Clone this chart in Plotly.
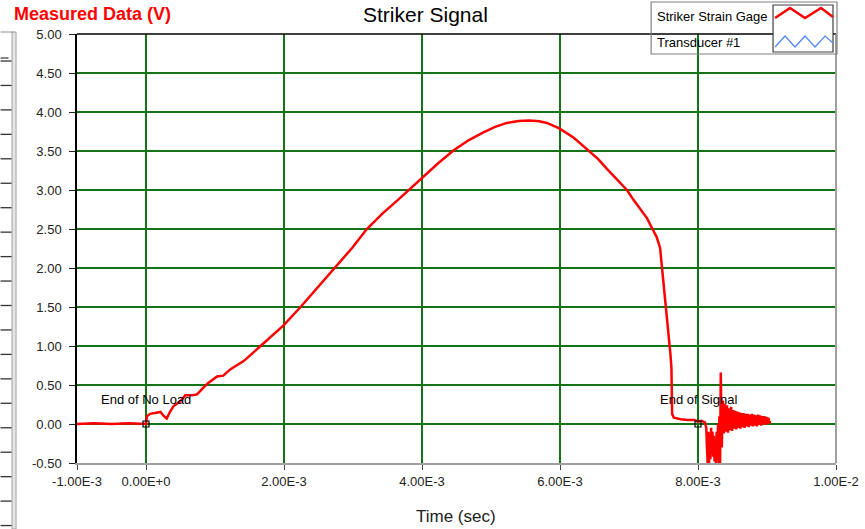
import plotly.graph_objects as go

# ---------------- data ----------------
# time in milliseconds (converted to seconds below), signal in volts
time_ms = [
    -1.00, -0.75, -0.50, -0.25, 0.00,
    0.014, 0.06, 0.21, 0.26, 0.30, 0.35, 0.40, 0.50, 0.57, 0.67, 0.74,
    0.835, 0.907, 1.03, 1.12, 1.22, 1.42, 1.66, 1.99, 2.24, 2.48, 2.74,
    2.99, 3.20, 3.43, 3.66, 3.83, 4.00, 4.23, 4.46, 4.68, 4.89, 5.06,
    5.23, 5.40, 5.55, 5.70, 5.81, 5.99, 6.20, 6.41, 6.55,
    6.68, 6.83, 6.97, 7.06, 7.16, 7.26, 7.34, 7.40, 7.45, 7.48, 7.51,
    7.54, 7.57, 7.60, 7.615,
    7.625, 7.65, 7.75, 7.85, 7.95, 8.00, 8.05, 8.10,
    8.12, 8.13, 8.14, 8.15, 8.16, 8.17, 8.18, 8.19, 8.20, 8.21, 8.22,
    8.23, 8.24, 8.25, 8.26, 8.27, 8.28, 8.29, 8.30, 8.31, 8.32, 8.33,
    8.345,
    8.36, 8.375, 8.39, 8.405, 8.42, 8.435, 8.45, 8.465, 8.48, 8.495,
    8.51, 8.525, 8.54, 8.555, 8.57, 8.585, 8.60, 8.615, 8.63, 8.645,
    8.66, 8.675, 8.69, 8.705, 8.72, 8.735, 8.75, 8.765, 8.78, 8.795,
    8.81, 8.825, 8.84, 8.855, 8.87, 8.885, 8.90, 8.915, 8.93, 8.945,
    8.96, 8.975, 8.99, 9.005, 9.02, 9.035, 9.05,
]
striker_v = [
    0.00, 0.01, 0.00, 0.01, 0.00,
    0.10, 0.13, 0.155, 0.10, 0.07, 0.16, 0.23, 0.29, 0.37, 0.37, 0.38,
    0.47, 0.53, 0.61, 0.62, 0.70, 0.81, 1.00, 1.26, 1.50, 1.74, 2.00,
    2.26, 2.50, 2.70, 2.88, 3.02, 3.15, 3.34, 3.51, 3.64, 3.74, 3.81,
    3.86, 3.885, 3.89, 3.88, 3.86, 3.79, 3.67, 3.51, 3.40,
    3.27, 3.13, 3.00, 2.88, 2.76, 2.64, 2.50, 2.40, 2.26, 2.00, 1.76,
    1.50, 1.18, 0.90, 0.72,
    0.13, 0.08, 0.06, 0.05, 0.05, 0.03, 0.04, 0.02,
    -0.05, -0.30, -0.50, -0.10, -0.50, -0.20, -0.45, -0.05, -0.38, -0.10, -0.42,
    -0.15, -0.48, -0.20, -0.50, -0.10, -0.45, 0.00, -0.52, 0.10, -0.52, 0.66,
    -0.30,
    0.30, -0.12, 0.26, -0.10, 0.24, -0.11, 0.20, -0.08, 0.22, -0.09,
    0.18, -0.06, 0.17, -0.07, 0.16, -0.05, 0.15, -0.06, 0.14, -0.04,
    0.14, -0.05, 0.13, -0.03, 0.13, -0.04, 0.12, -0.02, 0.13, -0.03,
    0.12, -0.02, 0.11, -0.03, 0.12, -0.01, 0.11, -0.02, 0.10, 0.00,
    0.10, -0.01, 0.09, 0.00, 0.08, 0.01, 0.04,
]
marker_ms = [0.0, 8.0]
marker_v = [0.0, 0.0]
marker_labels = ["End of No Load", "End of Signal"]

x_tickvals = [-1e-3, 0.0, 2e-3, 4e-3, 6e-3, 8e-3, 1e-2]
x_ticktext = ["-1.00E-3", "0.00E+0", "2.00E-3", "4.00E-3", "6.00E-3", "8.00E-3", "1.00E-2"]
y_tickvals = [5.0, 4.5, 4.0, 3.5, 3.0, 2.5, 2.0, 1.5, 1.0, 0.5, 0.0, -0.5]
y_ticktext = ["5.00", "4.50", "4.00", "3.50", "3.00", "2.50", "2.00", "1.50", "1.00", "0.50", "0.00", "-0.50"]
legend_names = ["Striker Strain Gage", "Transducer #1"]

# ---------------- figure ----------------
W, H = 865, 529
L, R, T, B = 76.5, 29, 34, 66
PW, PH = W - L - R, H - T - B


def px(x):
    return (x - L) / PW


def py(y):
    return (H - B - y) / PH


FONT = "Liberation Sans, Arial, sans-serif"
GRID = "rgb(20,115,20)"

fig = go.Figure()
fig.add_trace(go.Scatter(
    x=[t * 1e-3 for t in time_ms], y=striker_v, mode="lines",
    line=dict(color="#ff0000", width=2.5), name=legend_names[0],
    showlegend=False, hoverinfo="skip",
))
fig.add_trace(go.Scatter(
    x=[t * 1e-3 for t in marker_ms], y=marker_v, mode="markers",
    marker=dict(symbol="square-open", size=6, color="black", line=dict(width=1.2)),
    showlegend=False, hoverinfo="skip",
))

annotations = []
for t, v, lab in zip(marker_ms, marker_v, marker_labels):
    annotations.append(dict(
        x=t * 1e-3, y=v + 0.31, xref="x", yref="y", text=lab, showarrow=False,
        font=dict(family=FONT, size=13, color="black"), xanchor="center", yanchor="middle",
    ))

annotations += [
    dict(x=px(425), y=py(14), xref="paper", yref="paper", text="Striker Signal", showarrow=False,
         font=dict(family=FONT, size=21, color="black"), xanchor="center", yanchor="middle"),
    dict(x=px(11), y=py(14), xref="paper", yref="paper", text="<b>Measured Data (V)</b>", showarrow=False,
         font=dict(family=FONT, size=18, color="#ff0000"), xanchor="left", yanchor="middle"),
    dict(x=px(456), y=py(516), xref="paper", yref="paper", text="Time (sec)", showarrow=False,
         font=dict(family=FONT, size=17, color="#222"), xanchor="center", yanchor="middle"),
    dict(x=px(655), y=py(16), xref="paper", yref="paper", text=legend_names[0], showarrow=False,
         font=dict(family=FONT, size=13, color="black"), xanchor="left", yanchor="middle"),
    dict(x=px(655), y=py(43), xref="paper", yref="paper", text=legend_names[1], showarrow=False,
         font=dict(family=FONT, size=13, color="black"), xanchor="left", yanchor="middle"),
]

shapes = []
# frame: top black, right gray
shapes.append(dict(type="line", xref="paper", yref="paper", x0=0, x1=1, y0=1, y1=1,
                   line=dict(color="black", width=1.5), layer="above"))
shapes.append(dict(type="line", xref="paper", yref="paper", x0=1, x1=1, y0=0, y1=1,
                   line=dict(color="#a0a0a0", width=2), layer="above"))

# legend box
shapes.append(dict(type="rect", xref="paper", yref="paper", x0=px(651), x1=px(837), y0=py(54), y1=py(2),
                   line=dict(color="#808080", width=1.2), fillcolor="rgba(0,0,0,0)", layer="above"))
shapes.append(dict(type="rect", xref="paper", yref="paper", x0=px(773), x1=px(833), y0=py(52), y1=py(5),
                   line=dict(color="#404040", width=1.2), fillcolor="white", layer="above"))


def path(pts):
    return "M " + " L ".join(f"{px(a)},{py(b)}" for a, b in pts)


shapes.append(dict(type="path", xref="paper", yref="paper",
                   path=path([(775, 18), (790, 8), (805, 18), (821, 8), (833, 17)]),
                   line=dict(color="#ff0000", width=2.5), layer="above"))
shapes.append(dict(type="path", xref="paper", yref="paper",
                   path=path([(775, 47), (785, 36), (795, 47), (805, 36), (815, 47), (825, 36), (833, 43)]),
                   line=dict(color="#4f86f7", width=1.2), layer="above"))

# left-side gauge decoration
shapes.append(dict(type="rect", xref="paper", yref="paper", x0=px(11.5), x1=px(15.5), y0=py(529), y1=py(32),
                   line=dict(color="#a0a0a0", width=1), fillcolor="#e6e6e6", layer="above"))
shapes.append(dict(type="line", xref="paper", yref="paper", x0=px(0), x1=px(13), y0=py(32), y1=py(32),
                   line=dict(color="#a0a0a0", width=1.2), layer="above"))
yy = 61.0
while yy < 529:
    shapes.append(dict(type="line", xref="paper", yref="paper", x0=px(0), x1=px(11), y0=py(yy), y1=py(yy),
                       line=dict(color="#333", width=1.3), layer="above"))
    yy += 24.45
shapes.append(dict(type="line", xref="paper", yref="paper", x0=px(0), x1=px(8), y0=py(58), y1=py(58),
                   line=dict(color="#333", width=1.2), layer="above"))

fig.update_layout(
    width=W, height=H, autosize=False,
    margin=dict(l=L, r=R, t=T, b=B, pad=0),
    paper_bgcolor="white", plot_bgcolor="white",
    showlegend=False,
    annotations=annotations, shapes=shapes,
    font=dict(family=FONT, size=13, color="#222"),
)
fig.update_xaxes(
    range=[-1e-3, 1e-2], tickvals=x_tickvals, ticktext=x_ticktext,
    showgrid=True, gridcolor=GRID, gridwidth=1.5, zeroline=False,
    showline=True, linecolor="#a0a0a0", linewidth=2,
    ticks="outside", ticklen=5, tickcolor="#444", tickwidth=1.2,
    tickfont=dict(family=FONT, size=13, color="#222"),
    automargin=False,
)
fig.update_yaxes(
    range=[-0.5, 5.0], tickvals=y_tickvals, ticktext=y_ticktext,
    showgrid=True, gridcolor=GRID, gridwidth=1.5, zeroline=False,
    showline=True, linecolor="black", linewidth=1.5,
    ticks="outside", ticklen=6, tickcolor="#222", tickwidth=1.2,
    tickfont=dict(family=FONT, size=13, color="#222"),
    ticklabelstandoff=5, automargin=False,
)

fig.write_html("out.html")
